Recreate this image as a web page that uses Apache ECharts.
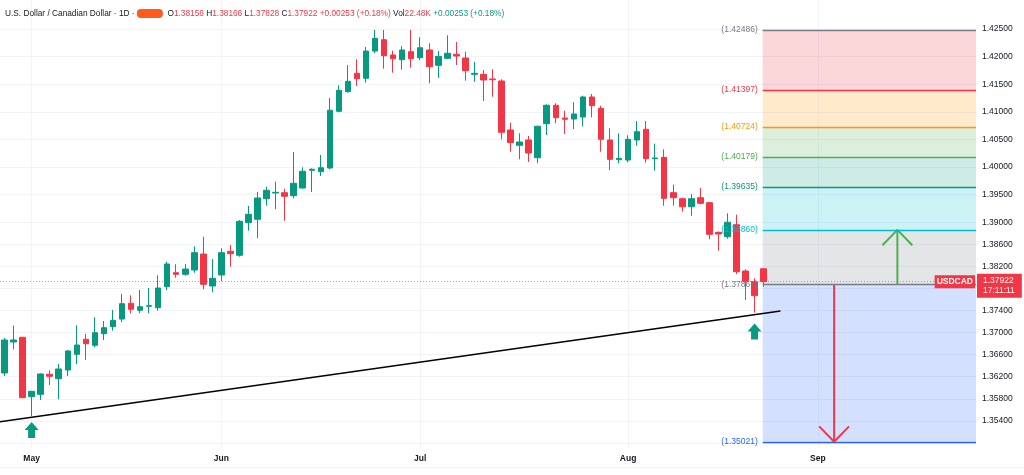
<!DOCTYPE html>
<html><head><meta charset="utf-8">
<script src="https://cdn.jsdelivr.net/npm/echarts@6/dist/echarts.min.js"></script>
<style>html,body{margin:0;padding:0;background:#fff}#c{width:1024px;height:475px}</style>
</head><body><div id="c"></div>
<script>
// ---- data ----
const opens  = [1.36267,1.36829,1.36914,1.35838,1.35881,1.36244,1.36164,1.36321,1.36606,1.36878,1.36769,1.36979,1.37106,1.37245,1.3753,1.37403,1.37476,1.3745,1.37831,1.38084,1.38055,1.38133,1.38423,1.37843,1.38043,1.38472,1.384,1.3899,1.39052,1.39425,1.39528,1.39534,1.3948,1.39619,1.3994,1.39914,1.39981,1.41009,1.41364,1.41697,1.41607,1.42101,1.42306,1.42029,1.41944,1.42089,1.4198,1.4212,1.41842,1.41969,1.42042,1.41975,1.41679,1.41679,1.41594,1.41558,1.4067,1.40393,1.40489,1.40168,1.40784,1.41118,1.40887,1.40869,1.40906,1.41268,1.41063,1.40489,1.40132,1.40126,1.40489,1.40683,1.4015,1.40175,1.39534,1.39425,1.3928,1.39443,1.39353,1.38816,1.38737,1.38954,1.38115,1.37921,1.38156];
const highs  = [1.36901,1.37124,1.36919,1.35941,1.36258,1.36316,1.3643,1.36684,1.37131,1.36974,1.37276,1.37209,1.37409,1.37698,1.37675,1.37771,1.37807,1.38037,1.38284,1.38237,1.38242,1.38563,1.38737,1.38333,1.38526,1.38586,1.39039,1.39293,1.39547,1.39643,1.39733,1.39606,1.40271,1.39994,1.39976,1.40217,1.4125,1.4148,1.41848,1.41951,1.42174,1.42482,1.42482,1.42107,1.42187,1.42482,1.4235,1.42241,1.42101,1.42386,1.42264,1.42089,1.41902,1.41757,1.4177,1.41589,1.40802,1.4061,1.40561,1.40748,1.41136,1.41154,1.4102,1.41172,1.41291,1.41322,1.4111,1.40701,1.4061,1.40574,1.40833,1.40833,1.40422,1.4032,1.39679,1.39443,1.3951,1.39619,1.39365,1.38831,1.39161,1.39135,1.38146,1.37983,1.38166];
const lows   = [1.36213,1.36697,1.35814,1.35488,1.35778,1.3605,1.3579,1.36213,1.3643,1.36503,1.36733,1.36865,1.37034,1.37191,1.37349,1.37349,1.37349,1.37396,1.37771,1.37994,1.3803,1.38084,1.37784,1.37729,1.37934,1.38193,1.38374,1.38845,1.38708,1.39298,1.39233,1.39027,1.39432,1.39606,1.39547,1.39837,1.39958,1.40991,1.41346,1.41467,1.41527,1.4206,1.41781,1.41708,1.41763,1.41799,1.41938,1.41516,1.41612,1.41956,1.41848,1.41563,1.41545,1.41195,1.41273,1.40501,1.40277,1.40139,1.4009,1.40067,1.40579,1.40791,1.40597,1.40688,1.40737,1.409,1.40277,1.39945,1.40067,1.40085,1.40385,1.40077,1.39933,1.39298,1.39298,1.3919,1.39117,1.39324,1.3869,1.38483,1.387,1.38061,1.3759,1.3736,1.37828];
const closes = [1.36865,1.36865,1.35819,1.35935,1.36249,1.36207,1.3634,1.36666,1.36774,1.36798,1.36997,1.37088,1.37222,1.37523,1.37421,1.37468,1.37486,1.37807,1.38242,1.38055,1.38151,1.38447,1.37874,1.37983,1.38447,1.38429,1.39016,1.39143,1.39438,1.39577,1.39541,1.39469,1.39704,1.39922,1.39958,1.39987,1.41027,1.41389,1.41552,1.416,1.42101,1.42331,1.42016,1.41962,1.4212,1.41962,1.42161,1.41817,1.42005,1.4206,1.42011,1.41744,1.41697,1.41576,1.41581,1.40628,1.4044,1.40453,1.40253,1.40737,1.41118,1.40893,1.40864,1.4096,1.41268,1.4111,1.40501,1.40139,1.40157,1.40501,1.40639,1.4015,1.40163,1.39432,1.39443,1.3928,1.39425,1.39342,1.3878,1.38786,1.38998,1.38102,1.37921,1.37669,1.37922];

const monthLabels   = ['May','Jun','Jul','Aug','Sep'];
const monthStartIdx = [3, 24, 46, 69, 90];
const slotCount = 108; // trading-day slots incl. empty future space

const priceTicks  = [1.350,1.354,1.358,1.362,1.366,1.370,1.374,1.378,1.382,1.386,1.390,1.395,1.400,1.405,1.410,1.415,1.420,1.425];
const priceLabels = [1.354,1.358,1.362,1.366,1.370,1.374,1.382,1.386,1.390,1.395,1.400,1.405,1.410,1.415,1.420,1.425];

const fibLevels = [1.42486,1.41397,1.40724,1.40179,1.39635,1.3886,1.37867,1.35021];
const fibColors = ['#787b86','#f23645','#ff9800','#4caf50','#089981','#00bcd4','#787b86','#2962ff'];
const fibSpan   = [83.9, 107.5];

const trendPoints  = [[-0.5, 1.35382], [85.86, 1.37391]];
const signalArrows = [[3, 1.35234], [83, 1.37019]];
const targetUp   = { x: 98.8, from: 1.37867, to: 1.3886, half: 1.65, head: 0.00279 };
const targetDown = { x: 91.8, from: 1.37867, to: 1.35021, half: 1.65, head: 0.00279 };

const volumeText = '22.48K';
const countdown  = '17:11:11';
const symbolName = 'USDCAD';

// ---- build ----
const UP = '#089981', DOWN = '#f23645';
const FONT = 'Liberation Sans, Arial, sans-serif';
const categories = Array.from({length: slotCount}, (_, i) => {
  const k = monthStartIdx.indexOf(i);
  return k >= 0 ? monthLabels[k] : '';
});
const ohlc = opens.map((o, i) => [o, closes[i], lows[i], highs[i]]);
const last = opens.length - 1;
const lastClose = closes[last];
const chg = lastClose - closes[last - 1];
const chgTxt = (chg >= 0 ? '+' : '') + chg.toFixed(5) + ' (' + (chg >= 0 ? '+' : '') + (chg / closes[last - 1] * 100).toFixed(2) + '%)';

function hexA(hex, a) {
  const n = parseInt(hex.slice(1), 16);
  return 'rgba(' + (n >> 16) + ',' + ((n >> 8) & 255) + ',' + (n & 255) + ',' + a + ')';
}
const fibAreas = [];
for (let i = 0; i < fibLevels.length - 1; i++) {
  fibAreas.push([
    { xAxis: fibSpan[0], yAxis: fibLevels[i], itemStyle: { color: hexA(fibColors[i + 1], 0.2) } },
    { xAxis: fibSpan[1], yAxis: fibLevels[i + 1] }
  ]);
}
const fibLines = fibLevels.map((v, i) => [
  { xAxis: fibSpan[0], yAxis: v, lineStyle: { color: fibColors[i], width: 1.3, type: 'solid' },
    label: { show: true, position: 'start', distance: 5, formatter: '(' + v.toFixed(5) + ')',
             color: fibColors[i], fontSize: 8.5, fontFamily: FONT } },
  { xAxis: fibSpan[1], yAxis: v }
]);

function arrowSeries(t, color) {
  const dir = t.to > t.from ? -1 : 1;
  return [
    { type: 'line', xAxisIndex: 1, yAxisIndex: 0, z: 4, symbol: 'none', silent: true,
      lineStyle: { color, width: 2 }, data: [[t.x, t.from], [t.x, t.to]] },
    { type: 'line', xAxisIndex: 1, yAxisIndex: 0, z: 4, symbol: 'none', silent: true,
      lineStyle: { color, width: 2 },
      data: [[t.x - t.half, t.to + dir * t.head], [t.x, t.to], [t.x + t.half, t.to + dir * t.head]] }
  ];
}

const hdr = { fontSize: 8.3, fontFamily: FONT, fontWeight: 'normal' };
const chart = echarts.init(document.getElementById('c'), null, { renderer: 'canvas' });
chart.setOption({
  animation: false,
  backgroundColor: '#ffffff',
  textStyle: { fontFamily: FONT },
  title: {
    left: 5, top: 9, padding: 0,
    text: '{t|U.S. Dollar / Canadian Dollar · 1D · }{x|}{t|  O}{r|' + opens[last].toFixed(5) +
          '}{t| H}{r|' + highs[last].toFixed(5) + '}{t| L}{r|' + lows[last].toFixed(5) +
          '}{t| C}{r|' + lastClose.toFixed(5) + '}{r| ' + chgTxt + '}{t| Vol}{r|' + volumeText +
          '}{g| ' + chgTxt + '}',
    textStyle: {
      fontWeight: 'normal',
      rich: {
        t: Object.assign({ color: '#131722' }, hdr),
        r: Object.assign({ color: DOWN }, hdr),
        g: Object.assign({ color: UP }, hdr),
        x: { width: 26, height: 9, backgroundColor: '#ff5a1f', borderRadius: 4 }
      }
    }
  },
  graphic: [{ type: 'line', silent: true, shape: { x1: 0, y1: 467.5, x2: 1024, y2: 467.5 },
              style: { stroke: '#eef0f3', lineWidth: 1 } }],
  grid: { left: -6.05, right: 48, top: 0, bottom: 27, containLabel: false },
  xAxis: [
    { type: 'category', data: categories, boundaryGap: true,
      axisLine: { show: false }, axisTick: { show: false }, splitLine: { show: false },
      axisLabel: { interval: 0, color: '#131722', fontSize: 8.5, fontWeight: 'bold', margin: 6, fontFamily: FONT } },
    { type: 'value', min: -0.5, max: slotCount - 0.5, position: 'bottom',
      axisLine: { show: false }, axisLabel: { show: false },
      axisTick: { show: false, customValues: monthStartIdx },
      splitLine: { show: true, lineStyle: { color: '#f0f3fa', width: 1 } } }
  ],
  yAxis: [{
    type: 'value', position: 'right', min: 1.34908, max: 1.430255, scale: true,
    axisLine: { show: false },
    axisTick: { show: false, customValues: priceTicks },
    axisLabel: { customValues: priceLabels, color: '#131722', fontSize: 8.5, margin: 6,
                 fontFamily: FONT, formatter: v => Number(v).toFixed(5) },
    splitLine: { show: true, lineStyle: { color: '#f0f3fa', width: 1 } }
  }],
  series: [
    { type: 'line', name: 'fib', xAxisIndex: 1, yAxisIndex: 0, z: 1, symbol: 'none', silent: true,
      data: [[fibSpan[0], fibLevels[0]]],
      markArea: { silent: true, data: fibAreas },
      markLine: { silent: true, symbol: ['none', 'none'], data: fibLines } },
    { type: 'candlestick', name: 'USDCAD', xAxisIndex: 0, yAxisIndex: 0, z: 2,
      barWidth: 6, data: ohlc,
      itemStyle: { color: UP, color0: DOWN, borderColor: UP, borderColor0: DOWN, borderWidth: 1 },
      markLine: {
        silent: true, symbol: ['none', 'none'], precision: 5,
        data: [
          { yAxis: lastClose, lineStyle: { color: hexA(DOWN, 0.6), type: [1, 2], width: 1 },
            label: { show: true, position: 'end', distance: 1, offset: [0, 4],
                     formatter: lastClose.toFixed(5) + '\n' + countdown,
                     backgroundColor: DOWN, color: '#fff', padding: [2, 7, 2, 6],
                     fontSize: 8.5, lineHeight: 10, fontFamily: FONT } },
          { yAxis: lastClose, lineStyle: { color: 'rgba(0,0,0,0)', width: 0 },
            label: { show: true, position: 'insideEnd', distance: 1, formatter: symbolName,
                     backgroundColor: DOWN, color: '#fff', padding: [2, 2, 2, 2],
                     fontSize: 8.5, fontWeight: 'bold', fontFamily: FONT } }
        ]
      } },
    { type: 'line', name: 'trend', xAxisIndex: 1, yAxisIndex: 0, z: 3, symbol: 'none', silent: true,
      lineStyle: { color: '#000', width: 1.5 }, data: trendPoints },
    ...arrowSeries(targetUp, '#4caf50'),
    ...arrowSeries(targetDown, '#f23645'),
    { type: 'scatter', name: 'signals', xAxisIndex: 1, yAxisIndex: 0, z: 4, silent: true,
      symbol: 'path://M7,0 L14,8 L10.5,8 L10.5,16 L3.5,16 L3.5,8 L0,8 Z', symbolSize: [14, 16],
      itemStyle: { color: UP, opacity: 1 }, data: signalArrows }
  ]
});
</script></body></html>
